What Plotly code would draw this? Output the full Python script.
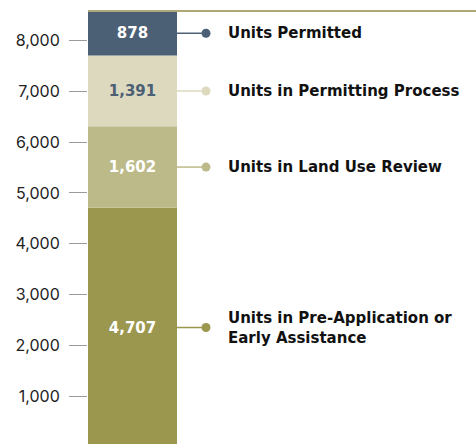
import plotly.graph_objects as go

# Housing pipeline, stacked from the bottom up
stages = [
    "Units in Pre-Application or<br>Early Assistance",
    "Units in Land Use Review",
    "Units in Permitting Process",
    "Units Permitted",
]
units = [4707, 1602, 1391, 878]
colors = ["#9c974f", "#bdba8a", "#dcd9bf", "#4b6074"]
value_text_colors = ["#ffffff", "#ffffff", "#4b6074", "#ffffff"]
tick_values = [1000, 2000, 3000, 4000, 5000, 6000, 7000, 8000]
tick_labels = ["1,000", "2,000", "3,000", "4,000", "5,000", "6,000", "7,000", "8,000"]

BAR_X = 44.5
BAR_W = 89
DOT_X = 118
LABEL_X = 138
BOLD_FONT = "DejaVu Sans"

fig = go.Figure()

base = 0
centers = []
for name, v, c, tc in zip(stages, units, colors, value_text_colors):
    fig.add_trace(go.Bar(
        x=[BAR_X], y=[v], base=[base], width=BAR_W,
        marker=dict(color=c, line=dict(width=0)),
        text=[f"{v:,}"], textposition="inside", insidetextanchor="middle",
        textangle=0, constraintext="none",
        textfont=dict(color=tc, size=15, family=BOLD_FONT, weight="bold"),
        name=name, showlegend=False, hoverinfo="skip",
    ))
    centers.append(base + v / 2)
    base += v
total = base

# leader lines and dots to each stage label
for name, c, yc in zip(stages, colors, centers):
    fig.add_trace(go.Scatter(
        x=[BAR_X + BAR_W / 2, DOT_X], y=[yc, yc], mode="lines",
        line=dict(color=c, width=1.5), showlegend=False, hoverinfo="skip",
    ))
    fig.add_trace(go.Scatter(
        x=[DOT_X], y=[yc], mode="markers",
        marker=dict(color=c, size=9), showlegend=False, hoverinfo="skip",
    ))
    fig.add_annotation(
        x=LABEL_X, y=yc, text=f"<b>{name}</b>", showarrow=False,
        xanchor="left", yanchor="middle", align="left",
        font=dict(family=BOLD_FONT, size=15, color="#111111"),
    )

# rule across the top of the stack
fig.add_shape(type="line", xref="paper", x0=0, x1=1, yref="y", y0=total, y1=total,
              line=dict(color="#aea977", width=2), layer="above")

fig.update_layout(
    width=476, height=444,
    margin=dict(l=88, r=0, t=0, b=0),
    paper_bgcolor="white", plot_bgcolor="white",
    barmode="overlay",
    xaxis=dict(range=[0, 388], visible=False, fixedrange=True),
    yaxis=dict(
        range=[63, 8793], tickvals=tick_values, ticktext=tick_labels,
        ticks="outside", ticklen=18, tickcolor="#9a9a9a", tickwidth=1,
        showgrid=False, zeroline=False, showline=False,
        tickfont=dict(family="Inter", size=16, color="#222222"),
        ticklabelstandoff=6,
    ),
    font=dict(family=BOLD_FONT),
)

fig.write_html("out.html")
